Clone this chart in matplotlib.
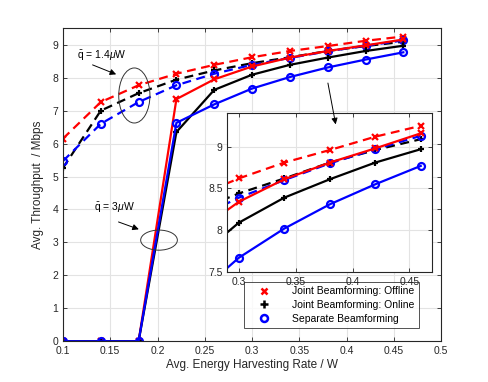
import numpy as np
import matplotlib
matplotlib.use("Agg")
import matplotlib.pyplot as plt
from matplotlib.patches import Ellipse
from matplotlib.lines import Line2D

plt.rcParams['font.family'] = ['Liberation Sans', 'DejaVu Sans']
plt.rcParams['mathtext.fontset'] = 'custom'
plt.rcParams['mathtext.rm'] = 'Liberation Sans'
plt.rcParams['mathtext.it'] = 'Liberation Sans:italic'

# energy harvesting rate (W)
rate = [0.10, 0.14, 0.18, 0.22, 0.26, 0.30, 0.34, 0.38, 0.42, 0.46]

# q = 1.4 uW (dashed)
offline_14 = [6.15, 7.26, 7.77, 8.12, 8.39, 8.62, 8.81, 8.96, 9.12, 9.25]
online_14 = [5.26, 7.00, 7.53, 7.94, 8.22, 8.44, 8.62, 8.81, 8.96, 9.09]
separate_14 = [5.47, 6.60, 7.26, 7.77, 8.12, 8.39, 8.60, 8.80, 8.97, 9.13]

# q = 3 uW (solid)
offline_3 = [0, 0, 0, 7.35, 7.95, 8.34, 8.61, 8.81, 8.98, 9.16]
online_3 = [0, 0, 0, 6.35, 7.63, 8.09, 8.39, 8.61, 8.81, 8.97]
separate_3 = [0, 0, 0, 6.63, 7.19, 7.67, 8.02, 8.31, 8.55, 8.77]

legend_labels = ['Joint Beamforming: Offline', 'Joint Beamforming: Online', 'Separate Beamforming']

GRID = '#e3e3e3'
SPINE = '#262626'
FS = 7.5


def draw_curves(ax):
    dash = (4, 2.5)
    kw = dict(lw=1.6, ms=5, mew=1.6)
    ax.plot(rate, offline_14, color='red', marker='x', dashes=dash, **kw)
    ax.plot(rate, online_14, color='black', marker='+', dashes=dash, **kw)
    ax.plot(rate, separate_14, color='blue', marker='o', mfc='none', dashes=dash, **kw)
    ax.plot(rate, offline_3, color='red', marker='x', **kw)
    ax.plot(rate, online_3, color='black', marker='+', **kw)
    ax.plot(rate, separate_3, color='blue', marker='o', mfc='none', **kw)


def style(ax):
    ax.grid(True, color=GRID, lw=0.8)
    ax.set_axisbelow(True)
    for s in ax.spines.values():
        s.set_color(SPINE)
        s.set_linewidth(0.8)
    ax.tick_params(direction='in', top=True, right=True, labelsize=FS,
                   colors=SPINE, length=3, width=0.6, labelcolor='#262626')


fig = plt.figure(figsize=(4.88, 3.82), dpi=100)
ax = fig.add_axes([0.129, 0.1066, 0.775, 0.8194])
draw_curves(ax)
ax.set_xlim(0.1, 0.5)
ax.set_ylim(0, 9.5)
ax.set_xticks(np.arange(0.1, 0.51, 0.05))
ax.set_xticklabels(['0.1', '0.15', '0.2', '0.25', '0.3', '0.35', '0.4', '0.45', '0.5'])
ax.set_yticks(range(0, 10))
style(ax)
ax.set_xlabel('Avg. Energy Harvesting Rate / W', fontsize=8.5, color='#262626', labelpad=2)
ax.set_ylabel('Avg. Throughput  / Mbps', fontsize=8.5, color='#262626', labelpad=6)

# annotations
ax.add_patch(Ellipse((0.1755, 7.46), 0.033, 1.67, fill=False, ec='#333333', lw=0.7, zorder=5))
ax.add_patch(Ellipse((0.2016, 3.07), 0.0388, 0.61, fill=False, ec='#333333', lw=0.7, zorder=5))
ax.text(0.1145, 8.65, r'$\bar{\rm q}$ = 1.4$\mu$W', fontsize=FS, va='center', ha='left')
ax.text(0.133, 4.06, r'$\bar{\rm q}$ = 3$\mu$W', fontsize=FS, va='center', ha='left')
arrow = dict(arrowstyle='-|>', color='black', lw=0.7, mutation_scale=9)
ax.annotate('', xy=(0.159, 8.07), xytext=(0.1286, 8.42), arrowprops=arrow)
ax.annotate('', xy=(0.183, 3.37), xytext=(0.156, 3.65), arrowprops=arrow)

handles = [Line2D([], [], color='red', marker='x', ls='none', ms=5, mew=1.8),
           Line2D([], [], color='black', marker='+', ls='none', ms=5.5, mew=1.8),
           Line2D([], [], color='blue', marker='o', mfc='none', ls='none', ms=5, mew=1.8)]
leg = ax.legend(handles, legend_labels, loc='lower right', bbox_to_anchor=(0.955, 0.026),
                fontsize=FS, frameon=True, fancybox=False, edgecolor=SPINE,
                borderpad=0.4, handletextpad=1.2, labelspacing=0.35, handlelength=3)
leg.get_frame().set_linewidth(0.7)

# inset zoom
ins = fig.add_axes([0.466, 0.288, 0.4195, 0.4154])
draw_curves(ins)
ins.set_xlim(0.29, 0.47)
ins.set_ylim(7.5, 9.4)
ins.set_xticks([0.3, 0.35, 0.4, 0.45])
ins.set_xticklabels(['0.3', '0.35', '0.4', '0.45'])
ins.set_yticks([7.5, 8, 8.5, 9])
ins.set_yticklabels(['7.5', '8', '8.5', '9'])
style(ins)
ins.annotate('', xy=(0.389, 6.5), xycoords=ax.transData, xytext=(0.3797, 7.92),
             textcoords=ax.transData, arrowprops=arrow, annotation_clip=False)

fig.savefig('out.png', dpi=100)
